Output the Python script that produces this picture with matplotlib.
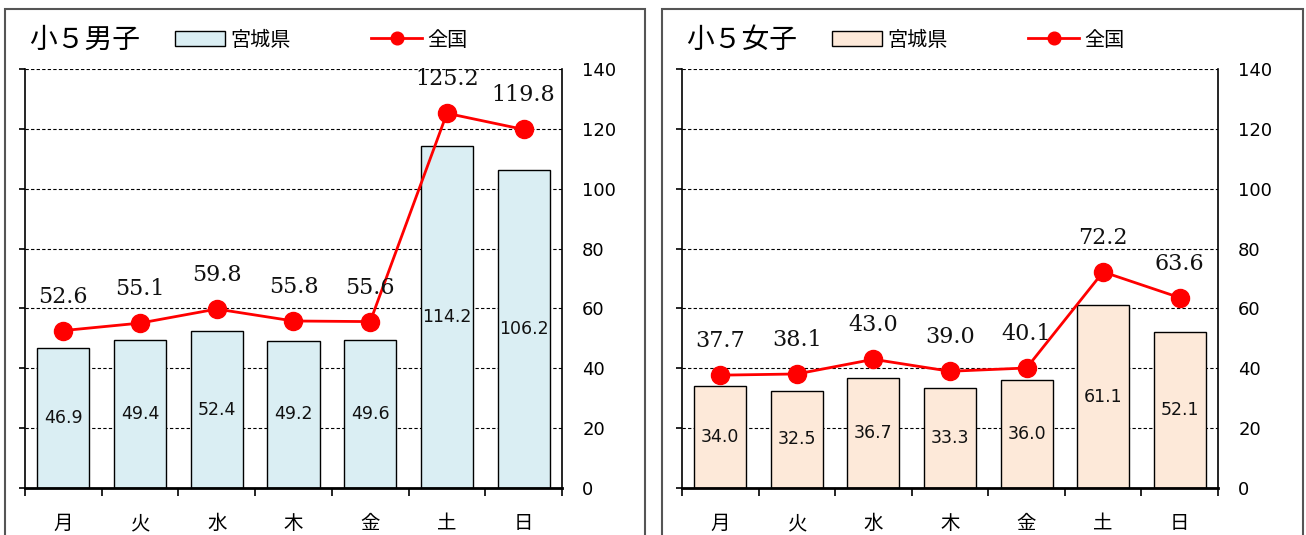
import matplotlib
matplotlib.use("Agg")
import matplotlib.pyplot as plt
from matplotlib.patches import Rectangle

plt.rcParams['font.family'] = ['DejaVu Sans', 'Noto Sans CJK JP']

# === Data ===
days = ["月", "火", "水", "木", "金", "土", "日"]
boys_miyagi = [46.9, 49.4, 52.4, 49.2, 49.6, 114.2, 106.2]
boys_national = [52.6, 55.1, 59.8, 55.8, 55.6, 125.2, 119.8]
girls_miyagi = [34.0, 32.5, 36.7, 33.3, 36.0, 61.1, 52.1]
girls_national = [37.7, 38.1, 43.0, 39.0, 40.1, 72.2, 63.6]
y_ticks = [0, 20, 40, 60, 80, 100, 120, 140]

W, H = 1306, 535
CJK = ['Noto Sans CJK JP', 'DejaVu Sans']


def px_rect(x0, y0, x1, y1):
    # pixel box (top-left origin) -> figure fraction [left, bottom, width, height]
    return [x0 / W, (H - y1) / H, (x1 - x0) / W, (y1 - y0) / H]


def draw_panel(fig, frame, box, title, miyagi, national, bar_color):
    fx0, fx1 = frame
    # outer frame, runs off the bottom like the original
    fig.add_artist(Rectangle((fx0 / W, -0.05), (fx1 - fx0) / W, (H - 9) / H + 0.05,
                             transform=fig.transFigure, fill=False,
                             edgecolor='#555555', linewidth=1.5))

    ax = fig.add_axes(px_rect(*box))
    x = list(range(len(days)))
    bars = ax.bar(x, miyagi, width=0.68, color=bar_color, edgecolor='black',
                  linewidth=1.0, zorder=2, label='宮城県')
    line, = ax.plot(x, national, color='red', linewidth=2, marker='o',
                    markersize=13, zorder=3, label='全国')

    for xi, v in zip(x, miyagi):
        ax.text(xi, v / 2, f"{v:.1f}", ha='center', va='center', fontsize=12.5,
                color='#111111', zorder=4)
    for xi, v in zip(x, national):
        ax.annotate(f"{v:.1f}", (xi, v), xytext=(0, 24.5), textcoords='offset points',
                    ha='center', va='center', fontsize=16, family='DejaVu Serif',
                    color='#111111', zorder=4)

    ax.set_xlim(-0.5, len(days) - 0.5)
    ax.set_ylim(0, 140)
    ax.set_yticks(y_ticks)
    ax.yaxis.grid(True, linestyle=(0, (3, 2)), color='black', linewidth=0.8, zorder=0)
    ax.set_axisbelow(True)
    ax.tick_params(axis='y', left=True, right=False, labelleft=False, labelright=True,
                   direction='out', length=4.5, width=1.2, labelsize=13, pad=10)

    # day boundaries get the tick marks, day names sit between them
    ax.set_xticks([i - 0.5 for i in range(len(days) + 1)])
    ax.set_xticklabels([])
    ax.set_xticks(x, minor=True)
    ax.set_xticklabels(days, minor=True, fontsize=14, family=CJK)
    ax.tick_params(axis='x', which='major', direction='out', length=6, width=1.2)
    ax.tick_params(axis='x', which='minor', length=0, pad=18)

    ax.spines['top'].set_visible(False)
    for s in ['left', 'right', 'bottom']:
        ax.spines[s].set_linewidth(1.2)
    ax.spines['bottom'].set_linewidth(2)

    fig.text((fx0 + 24) / W, (H - 40) / H, title, fontsize=20, family=CJK,
             ha='left', va='center')

    ax.legend(handles=[bars, line], loc='center left',
              bbox_to_anchor=((fx0 + 152) / W, (H - 40) / H),
              bbox_transform=fig.transFigure, ncol=2, frameon=False,
              prop={'family': CJK, 'size': 14.5}, handlelength=2.5,
              handletextpad=0.25, columnspacing=4.0, markerscale=0.7)
    return ax


fig = plt.figure(figsize=(W / 100, H / 100), dpi=100)
draw_panel(fig, (5, 645), (25, 69, 562, 488), "小５男子", boys_miyagi, boys_national, '#DAEEF3')
draw_panel(fig, (662, 1303), (682, 69, 1218, 488), "小５女子", girls_miyagi, girls_national, '#FDE9D9')

fig.savefig("out.png", dpi=100)
